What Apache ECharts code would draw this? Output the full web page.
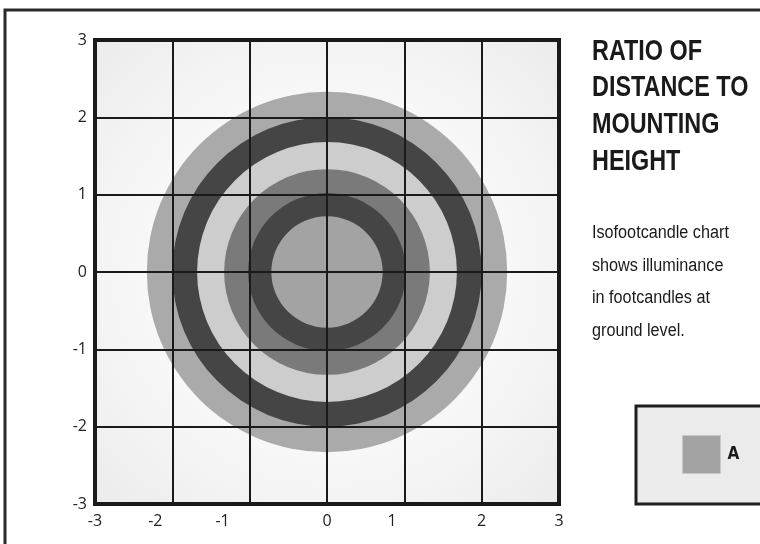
<!DOCTYPE html>
<html>
<head>
<meta charset="utf-8">
<script src="https://cdn.jsdelivr.net/npm/echarts@6/dist/echarts.min.js"></script>
<style>
html,body{margin:0;padding:0;background:#fff;}
#chart{width:760px;height:544px;}
</style>
</head>
<body>
<div id="chart"></div>
<script>
// ---- data ----
const ringRadii = [2.33, 2.0, 1.68, 1.33, 1.02, 0.72];   // ratio units, outermost first
const ringCenter = [0, 0];
const yTickValues = [-3, -2, -1, 0, 1, 2, 3];
const yTickLabels = ['-3', '-2', '-1', '0', '1', '2', '3'];
const xLabelPositions = [-3, -2.22, -1.35, 0, 0.84, 2, 3];
const xTickLabels = ['-3', '-2', '-1', '0', '1', '2', '3'];
const titleLines = ['RATIO OF', 'DISTANCE TO', 'MOUNTING', 'HEIGHT'];
const noteLines = ['Isofootcandle chart', 'shows illuminance', 'in footcandles at', 'ground level.'];
const legendName = 'A';

// ---- styles ----
const ringColors = ['#aaaaaa', '#454545', '#cdcdcd', '#7a7a7a', '#454545', '#a3a3a3'];
const narrowFont = "'Liberation Sans', Arial, sans-serif";
const labelFont = "'Open Sans', 'Noto Sans', sans-serif";

const chart = echarts.init(document.getElementById('chart'));
chart.setOption({
  animation: false,
  backgroundColor: '#ffffff',
  legend: {
    data: [{ name: legendName, icon: 'rect', itemStyle: { color: '#a3a3a3', borderColor: '#c8c8c8', borderWidth: 1 } }],
    left: 636, top: 406,
    orient: 'horizontal',
    itemWidth: 38, itemHeight: 38,
    padding: [29, 60, 30, 46],
    backgroundColor: '#ebebeb',
    borderColor: '#1e1e1e', borderWidth: 3,
    selectedMode: false,
    textStyle: { fontFamily: "'DejaVu Sans Condensed', sans-serif", fontWeight: 'bold', fontSize: 17, color: '#1a1a1a', padding: [0, 0, 0, 2] }
  },
  graphic: [
    { type: 'rect', shape: { x: 5, y: 10, width: 820, height: 620 }, style: { fill: 'none', stroke: '#2a2a2a', lineWidth: 3 }, silent: true },
    {
      type: 'text', x: 592, y: 33, scaleX: 0.78, silent: true,
      style: {
        text: titleLines.join('\n'),
        font: "bold 30px " + narrowFont,
        lineHeight: 36.7,
        fill: '#1a1a1a',
        textAlign: 'left', textVerticalAlign: 'top'
      }
    },
    {
      type: 'text', x: 592, y: 217, scaleX: 0.9, silent: true,
      style: {
        text: noteLines.join('\n'),
        font: "18px " + narrowFont,
        lineHeight: 32.5,
        fill: '#1a1a1a',
        textAlign: 'left', textVerticalAlign: 'top'
      }
    }
  ],
  grid: {
    left: 95, top: 40, width: 464, height: 464,
    show: true,
    borderColor: '#1a1a1a', borderWidth: 4,
    backgroundColor: {
      type: 'radial', x: 0.5, y: 0.5, r: 0.72,
      colorStops: [
        { offset: 0, color: '#fdfdfd' },
        { offset: 0.55, color: '#f7f7f7' },
        { offset: 1, color: '#ebebeb' }
      ]
    }
  },
  xAxis: {
    type: 'value', min: -3, max: 3, interval: 1, z: 5,
    axisLine: { show: false }, axisTick: { show: false },
    splitLine: { show: true, lineStyle: { color: '#1a1a1a', width: 2 } },
    axisLabel: {
      customValues: xLabelPositions,
      margin: 9,
      fontFamily: labelFont, fontSize: 16, color: '#222',
      formatter: function (v) {
        let best = 0, d = Infinity;
        xLabelPositions.forEach(function (p, i) { if (Math.abs(p - v) < d) { d = Math.abs(p - v); best = i; } });
        return xTickLabels[best];
      }
    }
  },
  yAxis: {
    type: 'value', min: -3, max: 3, interval: 1, z: 5,
    axisLine: { show: false }, axisTick: { show: false },
    splitLine: { show: true, lineStyle: { color: '#1a1a1a', width: 2 } },
    axisLabel: {
      customValues: yTickValues,
      margin: 8,
      fontFamily: labelFont, fontSize: 16, color: '#222',
      padding: [0, 0, 4, 0],
      formatter: function (v) { return yTickLabels[yTickValues.indexOf(v)]; }
    }
  },
  series: [
    {
      name: legendName,
      type: 'custom',
      coordinateSystem: 'cartesian2d',
      silent: true,
      data: ringRadii.map(function (r) { return [ringCenter[0], ringCenter[1], r]; }),
      encode: { x: 0, y: 1 },
      renderItem: function (params, api) {
        const c = api.coord([api.value(0), api.value(1)]);
        const s = api.size([api.value(2), api.value(2)]);
        return {
          type: 'circle',
          shape: { cx: c[0], cy: c[1], r: s[0] },
          style: { fill: ringColors[params.dataIndex] }
        };
      }
    }
  ]
});
</script>
</body>
</html>
